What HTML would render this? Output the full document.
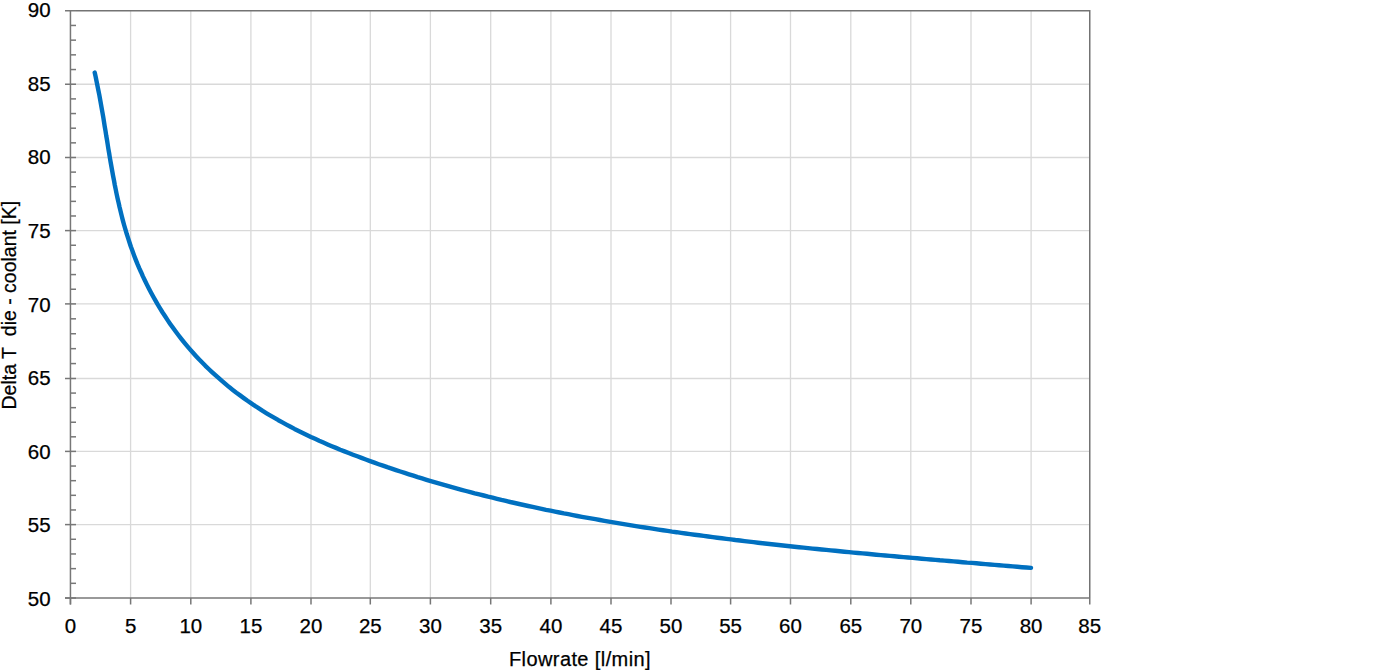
<!DOCTYPE html>
<html><head><meta charset="utf-8"><style>
html,body{margin:0;padding:0;background:#fff;width:1400px;height:670px;overflow:hidden;position:relative}
body{font-family:"Liberation Sans",sans-serif;color:#000;-webkit-text-stroke:0.25px #000}
.yl{position:absolute;left:0;width:50.6px;text-align:right;font-size:20.5px;line-height:23px;height:23px}
.xl{position:absolute;top:613.8px;width:60px;text-align:center;font-size:20.5px;line-height:23px;height:23px}
.xt{position:absolute;left:509px;top:647.5px;font-size:20px;line-height:22px;white-space:nowrap;letter-spacing:0.4px}
.yt{position:absolute;left:0;top:0;height:22px;font-size:21px;line-height:22px;white-space:nowrap;transform-origin:0 0;transform:translate(-2px,409.5px) rotate(-90deg) scaleX(0.928)}
</style></head><body>
<svg width="1400" height="670" viewBox="0 0 1400 670" style="position:absolute;left:0;top:0">
<line x1="70.45" y1="524.60" x2="1090" y2="524.60" stroke="#D9D9D9" stroke-width="1.3"/>
<line x1="70.45" y1="451.40" x2="1090" y2="451.40" stroke="#D9D9D9" stroke-width="1.3"/>
<line x1="70.45" y1="378.50" x2="1090" y2="378.50" stroke="#D9D9D9" stroke-width="1.3"/>
<line x1="70.45" y1="303.90" x2="1090" y2="303.90" stroke="#D9D9D9" stroke-width="1.3"/>
<line x1="70.45" y1="230.60" x2="1090" y2="230.60" stroke="#D9D9D9" stroke-width="1.3"/>
<line x1="70.45" y1="157.50" x2="1090" y2="157.50" stroke="#D9D9D9" stroke-width="1.3"/>
<line x1="70.45" y1="84.25" x2="1090" y2="84.25" stroke="#D9D9D9" stroke-width="1.3"/>
<line x1="130.60" y1="11" x2="130.60" y2="598" stroke="#D9D9D9" stroke-width="1.3"/>
<line x1="190.80" y1="11" x2="190.80" y2="598" stroke="#D9D9D9" stroke-width="1.3"/>
<line x1="250.90" y1="11" x2="250.90" y2="598" stroke="#D9D9D9" stroke-width="1.3"/>
<line x1="311.00" y1="11" x2="311.00" y2="598" stroke="#D9D9D9" stroke-width="1.3"/>
<line x1="370.30" y1="11" x2="370.30" y2="598" stroke="#D9D9D9" stroke-width="1.3"/>
<line x1="430.40" y1="11" x2="430.40" y2="598" stroke="#D9D9D9" stroke-width="1.3"/>
<line x1="490.70" y1="11" x2="490.70" y2="598" stroke="#D9D9D9" stroke-width="1.3"/>
<line x1="550.90" y1="11" x2="550.90" y2="598" stroke="#D9D9D9" stroke-width="1.3"/>
<line x1="611.00" y1="11" x2="611.00" y2="598" stroke="#D9D9D9" stroke-width="1.3"/>
<line x1="671.00" y1="11" x2="671.00" y2="598" stroke="#D9D9D9" stroke-width="1.3"/>
<line x1="730.60" y1="11" x2="730.60" y2="598" stroke="#D9D9D9" stroke-width="1.3"/>
<line x1="790.50" y1="11" x2="790.50" y2="598" stroke="#D9D9D9" stroke-width="1.3"/>
<line x1="850.80" y1="11" x2="850.80" y2="598" stroke="#D9D9D9" stroke-width="1.3"/>
<line x1="910.80" y1="11" x2="910.80" y2="598" stroke="#D9D9D9" stroke-width="1.3"/>
<line x1="971.00" y1="11" x2="971.00" y2="598" stroke="#D9D9D9" stroke-width="1.3"/>
<line x1="1031.10" y1="11" x2="1031.10" y2="598" stroke="#D9D9D9" stroke-width="1.3"/>
<polyline points="76,10.75 1089.75,10.75 1089.75,598" fill="none" stroke="#737373" stroke-width="1.5"/>
<line x1="70.45" y1="11" x2="70.45" y2="604.5" stroke="#777777" stroke-width="1.5"/>
<line x1="65" y1="598" x2="1089.75" y2="598" stroke="#777777" stroke-width="1.5"/>
<line x1="65" y1="598.00" x2="76" y2="598.00" stroke="#777777" stroke-width="1.5"/>
<line x1="65" y1="524.60" x2="76" y2="524.60" stroke="#777777" stroke-width="1.5"/>
<line x1="65" y1="451.40" x2="76" y2="451.40" stroke="#777777" stroke-width="1.5"/>
<line x1="65" y1="378.50" x2="76" y2="378.50" stroke="#777777" stroke-width="1.5"/>
<line x1="65" y1="303.90" x2="76" y2="303.90" stroke="#777777" stroke-width="1.5"/>
<line x1="65" y1="230.60" x2="76" y2="230.60" stroke="#777777" stroke-width="1.5"/>
<line x1="65" y1="157.50" x2="76" y2="157.50" stroke="#777777" stroke-width="1.5"/>
<line x1="65" y1="84.25" x2="76" y2="84.25" stroke="#777777" stroke-width="1.5"/>
<line x1="65" y1="10.75" x2="76" y2="10.75" stroke="#777777" stroke-width="1.5"/>
<line x1="70.45" y1="583.32" x2="76" y2="583.32" stroke="#777777" stroke-width="1.5"/>
<line x1="70.45" y1="568.64" x2="76" y2="568.64" stroke="#777777" stroke-width="1.5"/>
<line x1="70.45" y1="553.96" x2="76" y2="553.96" stroke="#777777" stroke-width="1.5"/>
<line x1="70.45" y1="539.28" x2="76" y2="539.28" stroke="#777777" stroke-width="1.5"/>
<line x1="70.45" y1="509.96" x2="76" y2="509.96" stroke="#777777" stroke-width="1.5"/>
<line x1="70.45" y1="495.32" x2="76" y2="495.32" stroke="#777777" stroke-width="1.5"/>
<line x1="70.45" y1="480.68" x2="76" y2="480.68" stroke="#777777" stroke-width="1.5"/>
<line x1="70.45" y1="466.04" x2="76" y2="466.04" stroke="#777777" stroke-width="1.5"/>
<line x1="70.45" y1="436.82" x2="76" y2="436.82" stroke="#777777" stroke-width="1.5"/>
<line x1="70.45" y1="422.24" x2="76" y2="422.24" stroke="#777777" stroke-width="1.5"/>
<line x1="70.45" y1="407.66" x2="76" y2="407.66" stroke="#777777" stroke-width="1.5"/>
<line x1="70.45" y1="393.08" x2="76" y2="393.08" stroke="#777777" stroke-width="1.5"/>
<line x1="70.45" y1="363.58" x2="76" y2="363.58" stroke="#777777" stroke-width="1.5"/>
<line x1="70.45" y1="348.66" x2="76" y2="348.66" stroke="#777777" stroke-width="1.5"/>
<line x1="70.45" y1="333.74" x2="76" y2="333.74" stroke="#777777" stroke-width="1.5"/>
<line x1="70.45" y1="318.82" x2="76" y2="318.82" stroke="#777777" stroke-width="1.5"/>
<line x1="70.45" y1="289.24" x2="76" y2="289.24" stroke="#777777" stroke-width="1.5"/>
<line x1="70.45" y1="274.58" x2="76" y2="274.58" stroke="#777777" stroke-width="1.5"/>
<line x1="70.45" y1="259.92" x2="76" y2="259.92" stroke="#777777" stroke-width="1.5"/>
<line x1="70.45" y1="245.26" x2="76" y2="245.26" stroke="#777777" stroke-width="1.5"/>
<line x1="70.45" y1="215.98" x2="76" y2="215.98" stroke="#777777" stroke-width="1.5"/>
<line x1="70.45" y1="201.36" x2="76" y2="201.36" stroke="#777777" stroke-width="1.5"/>
<line x1="70.45" y1="186.74" x2="76" y2="186.74" stroke="#777777" stroke-width="1.5"/>
<line x1="70.45" y1="172.12" x2="76" y2="172.12" stroke="#777777" stroke-width="1.5"/>
<line x1="70.45" y1="142.85" x2="76" y2="142.85" stroke="#777777" stroke-width="1.5"/>
<line x1="70.45" y1="128.20" x2="76" y2="128.20" stroke="#777777" stroke-width="1.5"/>
<line x1="70.45" y1="113.55" x2="76" y2="113.55" stroke="#777777" stroke-width="1.5"/>
<line x1="70.45" y1="98.90" x2="76" y2="98.90" stroke="#777777" stroke-width="1.5"/>
<line x1="70.45" y1="69.55" x2="76" y2="69.55" stroke="#777777" stroke-width="1.5"/>
<line x1="70.45" y1="54.85" x2="76" y2="54.85" stroke="#777777" stroke-width="1.5"/>
<line x1="70.45" y1="40.15" x2="76" y2="40.15" stroke="#777777" stroke-width="1.5"/>
<line x1="70.45" y1="25.45" x2="76" y2="25.45" stroke="#777777" stroke-width="1.5"/>
<line x1="70.45" y1="598" x2="70.45" y2="604.5" stroke="#777777" stroke-width="1.5"/>
<line x1="130.60" y1="598" x2="130.60" y2="604.5" stroke="#777777" stroke-width="1.5"/>
<line x1="190.80" y1="598" x2="190.80" y2="604.5" stroke="#777777" stroke-width="1.5"/>
<line x1="250.90" y1="598" x2="250.90" y2="604.5" stroke="#777777" stroke-width="1.5"/>
<line x1="311.00" y1="598" x2="311.00" y2="604.5" stroke="#777777" stroke-width="1.5"/>
<line x1="370.30" y1="598" x2="370.30" y2="604.5" stroke="#777777" stroke-width="1.5"/>
<line x1="430.40" y1="598" x2="430.40" y2="604.5" stroke="#777777" stroke-width="1.5"/>
<line x1="490.70" y1="598" x2="490.70" y2="604.5" stroke="#777777" stroke-width="1.5"/>
<line x1="550.90" y1="598" x2="550.90" y2="604.5" stroke="#777777" stroke-width="1.5"/>
<line x1="611.00" y1="598" x2="611.00" y2="604.5" stroke="#777777" stroke-width="1.5"/>
<line x1="671.00" y1="598" x2="671.00" y2="604.5" stroke="#777777" stroke-width="1.5"/>
<line x1="730.60" y1="598" x2="730.60" y2="604.5" stroke="#777777" stroke-width="1.5"/>
<line x1="790.50" y1="598" x2="790.50" y2="604.5" stroke="#777777" stroke-width="1.5"/>
<line x1="850.80" y1="598" x2="850.80" y2="604.5" stroke="#777777" stroke-width="1.5"/>
<line x1="910.80" y1="598" x2="910.80" y2="604.5" stroke="#777777" stroke-width="1.5"/>
<line x1="971.00" y1="598" x2="971.00" y2="604.5" stroke="#777777" stroke-width="1.5"/>
<line x1="1031.10" y1="598" x2="1031.10" y2="604.5" stroke="#777777" stroke-width="1.5"/>
<line x1="1089.75" y1="598" x2="1089.75" y2="604.5" stroke="#777777" stroke-width="1.5"/>
<path d="M94.7,72.6 L95.7,77.0 L96.6,81.5 L97.5,86.0 L98.4,90.5 L99.3,94.9 L100.1,99.4 L100.9,103.9 L101.7,108.4 L102.5,112.9 L103.3,117.4 L104.0,121.9 L104.7,126.4 L105.5,130.9 L106.2,135.5 L107.0,140.0 L107.7,144.5 L108.4,149.0 L109.2,153.5 L109.9,158.0 L110.7,162.5 L111.5,167.0 L112.3,171.5 L113.1,176.0 L114.0,180.5 L114.8,185.0 L115.7,189.4 L116.6,193.9 L117.6,198.4 L118.6,202.8 L119.6,207.3 L120.7,211.7 L121.8,216.2 L122.9,220.6 L124.1,225.0 L125.4,229.4 L126.7,233.8 L128.1,238.1 L129.5,242.5 L130.9,246.8 L132.5,251.1 L134.1,255.4 L135.7,259.6 L137.4,263.9 L139.2,268.1 L141.1,272.2 L142.9,276.4 L144.9,280.5 L146.9,284.6 L149.0,288.7 L151.1,292.7 L153.3,296.8 L155.5,300.7 L157.8,304.7 L160.2,308.6 L162.6,312.5 L165.1,316.3 L167.6,320.1 L170.2,323.9 L172.8,327.6 L175.5,331.3 L178.3,335.0 L181.1,338.6 L183.9,342.1 L186.8,345.6 L189.8,349.1 L192.8,352.5 L195.9,355.9 L199.0,359.3 L202.2,362.5 L205.4,365.8 L208.7,369.0 L212.0,372.1 L215.4,375.2 L218.8,378.2 L222.2,381.2 L225.7,384.2 L229.2,387.1 L232.8,389.9 L236.4,392.7 L240.1,395.4 L243.8,398.1 L247.5,400.8 L251.3,403.4 L255.0,405.9 L258.9,408.4 L262.7,410.9 L266.6,413.3 L270.5,415.6 L274.5,417.9 L278.4,420.2 L282.4,422.4 L286.4,424.6 L290.5,426.8 L294.5,428.9 L298.6,430.9 L302.7,432.9 L306.8,434.9 L310.9,436.9 L315.1,438.8 L319.2,440.7 L323.4,442.5 L327.6,444.4 L331.8,446.2 L336.0,447.9 L340.2,449.7 L344.5,451.4 L348.7,453.0 L353.0,454.7 L357.3,456.3 L361.5,457.9 L365.8,459.5 L370.1,461.1 L374.4,462.6 L378.7,464.2 L383.0,465.7 L387.3,467.2 L391.7,468.6 L396.0,470.1 L400.3,471.5 L404.7,472.9 L409.0,474.3 L413.4,475.7 L417.7,477.1 L422.1,478.4 L426.5,479.8 L430.8,481.1 L435.2,482.4 L439.6,483.6 L444.0,484.9 L448.4,486.2 L452.8,487.4 L457.2,488.6 L461.6,489.8 L466.0,491.0 L470.4,492.1 L474.8,493.3 L479.3,494.4 L483.7,495.5 L488.1,496.7 L492.6,497.7 L497.0,498.8 L501.4,499.9 L505.9,500.9 L510.3,502.0 L514.8,503.0 L519.2,504.0 L523.7,505.0 L528.2,506.0 L532.6,506.9 L537.1,507.9 L541.6,508.8 L546.0,509.8 L550.5,510.7 L555.0,511.6 L559.5,512.5 L563.9,513.4 L568.4,514.2 L572.9,515.1 L577.4,516.0 L581.9,516.8 L586.4,517.6 L590.9,518.4 L595.4,519.2 L599.9,520.0 L604.4,520.8 L608.9,521.6 L613.4,522.4 L617.9,523.1 L622.4,523.9 L626.9,524.6 L631.4,525.4 L635.9,526.1 L640.4,526.8 L644.9,527.5 L649.4,528.2 L654.0,528.9 L658.5,529.6 L663.0,530.2 L667.5,530.9 L672.0,531.6 L676.6,532.2 L681.1,532.9 L685.6,533.5 L690.1,534.1 L694.6,534.7 L699.2,535.3 L703.7,535.9 L708.2,536.5 L712.8,537.1 L717.3,537.7 L721.8,538.3 L726.4,538.9 L730.9,539.4 L735.4,540.0 L740.0,540.5 L744.5,541.1 L749.0,541.6 L753.6,542.1 L758.1,542.7 L762.6,543.2 L767.2,543.7 L771.7,544.2 L776.3,544.7 L780.8,545.2 L785.3,545.7 L789.9,546.2 L794.4,546.7 L799.0,547.2 L803.5,547.6 L808.0,548.1 L812.6,548.6 L817.1,549.0 L821.7,549.5 L826.2,549.9 L830.8,550.4 L835.3,550.8 L839.9,551.3 L844.4,551.7 L849.0,552.1 L853.5,552.6 L858.0,553.0 L862.6,553.4 L867.1,553.8 L871.7,554.3 L876.2,554.7 L880.8,555.1 L885.3,555.5 L889.9,555.9 L894.4,556.3 L899.0,556.7 L903.5,557.1 L908.1,557.5 L912.6,557.9 L917.2,558.3 L921.7,558.7 L926.3,559.1 L930.8,559.5 L935.4,559.9 L939.9,560.3 L944.5,560.6 L949.0,561.0 L953.6,561.4 L958.1,561.8 L962.7,562.2 L967.2,562.6 L971.8,562.9 L976.4,563.3 L980.9,563.7 L985.5,564.1 L990.0,564.5 L994.6,564.9 L999.1,565.2 L1003.7,565.6 L1008.2,566.0 L1012.8,566.4 L1017.3,566.8 L1021.9,567.2 L1026.4,567.5 L1031.0,567.9" fill="none" stroke="#0070C0" stroke-width="4.4" stroke-linecap="round" stroke-linejoin="round"/>
</svg>
<div class="yl" style="top:586.83px">50</div><div class="yl" style="top:513.27px">55</div><div class="yl" style="top:439.71px">60</div><div class="yl" style="top:366.15px">65</div><div class="yl" style="top:292.59px">70</div><div class="yl" style="top:219.03px">75</div><div class="yl" style="top:145.47px">80</div><div class="yl" style="top:71.91px">85</div><div class="yl" style="top:-1.65px">90</div><div class="xl" style="left:40.45px">0</div><div class="xl" style="left:100.60px">5</div><div class="xl" style="left:160.80px">10</div><div class="xl" style="left:220.90px">15</div><div class="xl" style="left:281.00px">20</div><div class="xl" style="left:340.30px">25</div><div class="xl" style="left:400.40px">30</div><div class="xl" style="left:460.70px">35</div><div class="xl" style="left:520.90px">40</div><div class="xl" style="left:581.00px">45</div><div class="xl" style="left:641.00px">50</div><div class="xl" style="left:700.60px">55</div><div class="xl" style="left:760.50px">60</div><div class="xl" style="left:820.80px">65</div><div class="xl" style="left:880.80px">70</div><div class="xl" style="left:941.00px">75</div><div class="xl" style="left:1001.10px">80</div><div class="xl" style="left:1059.75px">85</div>
<div class="xt">Flowrate [l/min]</div>
<div class="yt">Delta T&nbsp; die - coolant [K]</div>
</body></html>
